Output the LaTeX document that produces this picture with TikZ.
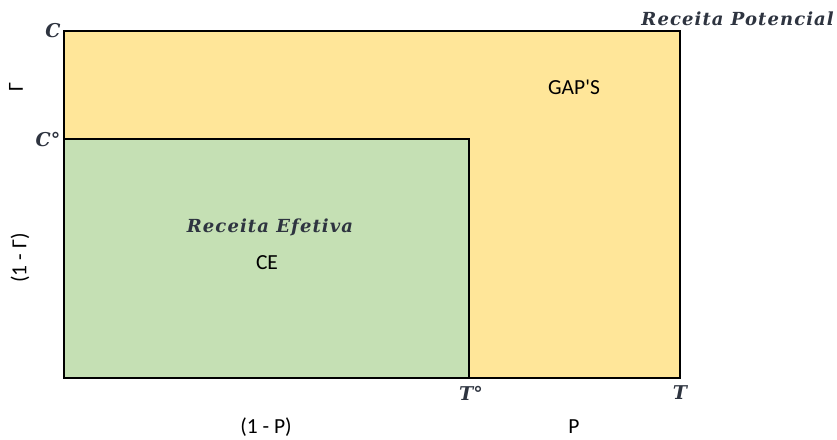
\documentclass[tikz,border=0pt]{standalone}
\usepackage{fontspec}
\setmainfont{Carlito}[Ligatures=TeXOff]
\newfontfamily\mfont{DejaVu Serif}
\newfontfamily\wfont{DejaVu Serif}[LetterSpace=6]
\definecolor{yel}{HTML}{FFE699}
\definecolor{grn}{HTML}{C5E0B4}
\definecolor{mtxt}{HTML}{2E3440}
\begin{document}
\begin{tikzpicture}[x=1pt,y=-1pt,
  lab/.style={font=\fontsize{21.5}{24}\selectfont, text=black, inner sep=0pt},
  mlab/.style={font=\mfont\bfseries\itshape\fontsize{19}{22}\selectfont, text=mtxt, inner sep=0pt},
  wlab/.style={font=\wfont\bfseries\itshape\fontsize{18}{21}\selectfont, text=mtxt, inner sep=0pt},
  box/.style={draw=black, line width=2.4pt}]
\useasboundingbox (0,0) rectangle (837,439);
\path[fill=white] (0,0) rectangle (837,439);
\coordinate (o1) at (64,31);
\coordinate (o2) at (680,378);
\coordinate (i1) at (64,139);
\coordinate (i2) at (469,378);
\draw[box, fill=yel] (o1) rectangle (o2);
\draw[box, fill=grn] (i1) rectangle (i2);
\node[mlab] (C) at (53,31) {C};
\node[mlab] (C0) at (48,140) {C°};
\node[mlab] (T0) at (471,393) {T°};
\node[mlab] (T) at (680,393) {T};
\node[wlab, anchor=east] (RP) at (834,19) {Receita Potencial};
\node[lab] (gaps) at (574,87) {GAP'S};
\node[wlab] (RE) at (270,227) {Receita Efetiva};
\node[lab] (CE) at (267,263) {CE};
\node[lab] (omP) at (266,427) {(1 - P)};
\node[lab] (P) at (574,427) {P};
\node[lab, rotate=90] (G) at (16,87) {Γ};
\node[lab, rotate=90] (omG) at (20,258) {(1 - Γ)};
\end{tikzpicture}
\end{document}
